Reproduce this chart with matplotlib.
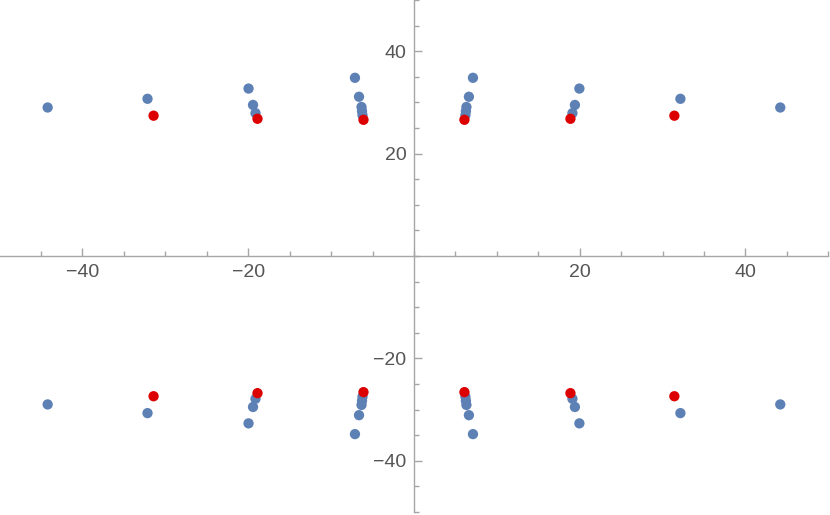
import numpy as np
import matplotlib
matplotlib.use('Agg')
import matplotlib.pyplot as plt
from matplotlib.ticker import FixedLocator, MultipleLocator

# Points read in the upper-right quadrant; the picture is mirror-symmetric in both axes
blue_x = [7.12, 6.63, 6.33, 6.27, 6.21, 19.96, 19.42, 19.12, 32.15, 44.2]
blue_y = [34.8, 31.1, 29.1, 28.3, 27.5, 32.7, 29.5, 27.9, 30.7, 29.0]
red_x = [6.09, 18.88, 31.42]
red_y = [26.6, 26.8, 27.4]

major_ticks = [-40, -20, 20, 40]
quadrants = [(1, 1), (-1, 1), (-1, -1), (1, -1)]

fig = plt.figure(figsize=(8.3, 5.15), dpi=100)
ax = fig.add_axes([0, 0, 1, 1])

for sx, sy in quadrants:
    ax.scatter(sx * np.array(blue_x), sy * np.array(blue_y), s=55, color='#5e81b5',
               edgecolors='none', zorder=3)
for sx, sy in quadrants:
    ax.scatter(sx * np.array(red_x), sy * np.array(red_y), s=55, color='#dd0000',
               edgecolors='none', zorder=4)

ax.set_xlim(-49.95, 50.2)
ax.set_ylim(-50.6, 50.0)

# Axes through the origin
for side in ['top', 'right']:
    ax.spines[side].set_visible(False)
for side in ['left', 'bottom']:
    ax.spines[side].set_position(('data', 0))
    ax.spines[side].set_color('#a6a6a6')
    ax.spines[side].set_linewidth(1.0)
    ax.spines[side].set_bounds(-50, 50)

ax.xaxis.set_major_locator(FixedLocator(major_ticks))
ax.yaxis.set_major_locator(FixedLocator(major_ticks))
ax.xaxis.set_minor_locator(MultipleLocator(5))
ax.yaxis.set_minor_locator(MultipleLocator(5))
ax.tick_params(which='both', direction='in', color='#a6a6a6', width=1.0,
               labelcolor='#555555', labelsize=14)
ax.tick_params(which='major', length=5.5, pad=5.5)
ax.tick_params(which='minor', length=3.5)
for lab in ax.get_xticklabels() + ax.get_yticklabels():
    lab.set_family('Liberation Sans')

ax.patch.set_visible(False)
fig.savefig('out.png', dpi=100)
